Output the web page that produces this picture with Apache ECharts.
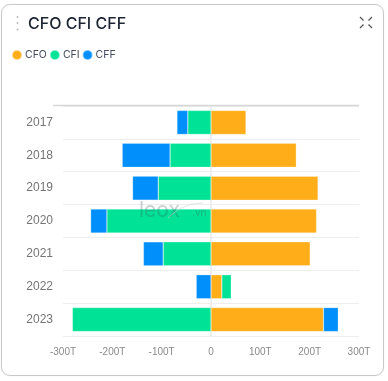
<!DOCTYPE html>
<html>
<head>
<meta charset="utf-8">
<script src="https://cdn.jsdelivr.net/npm/echarts@6/dist/echarts.min.js"></script>
<style>
html, body { margin: 0; padding: 0; background: #fff; }
#card { position: absolute; left: 1px; top: 4px; width: 381px; height: 370px; border: 1px solid #c9c9c9; border-radius: 9px; box-shadow: 0 0 1px #ddd; }
#chart { position: absolute; left: 0; top: 0; width: 388px; height: 381px; }
</style>
</head>
<body>
<div id="card"></div>
<div id="chart"></div>
<script>
var years = ['2017', '2018', '2019', '2020', '2021', '2022', '2023'];
var cfo = [71, 173, 217, 214, 201, 22, 228];
var cfi = [-47, -83, -107, -211, -97, 19, -281];
var cff = [-22, -97, -52, -33, -40, -30, 30];
var xTicks = [-300, -200, -100, 0, 100, 200, 300];

var chart = echarts.init(document.getElementById('chart'));

function makeSeries(name, color, data) {
    return {
        name: name,
        type: 'bar',
        stack: 'total',
        barWidth: 24,
        itemStyle: {color: color, borderColor: 'rgba(255,255,255,0.5)', borderWidth: 0.5},
        data: data
    };
}

var option = {
    animation: false,
    title: {
        text: 'CFO CFI CFF',
        left: 23,
        top: 11,
        textStyle: {fontFamily: 'Inter', fontSize: 16, fontWeight: 500, color: '#1d2433'}
    },
    legend: {
        left: 6,
        top: 44,
        icon: 'circle',
        itemWidth: 10,
        itemHeight: 10,
        itemGap: 2,
        textStyle: {fontFamily: 'Inter', fontSize: 10.5, color: '#444c5c', padding: [0, 0, 0, -2]},
        data: ['CFO', 'CFI', 'CFF']
    },
    grid: {left: 63, right: 29, top: 106, bottom: 45},
    xAxis: {
        type: 'value',
        min: -300,
        max: 300,
        interval: 100,
        axisLine: {show: false},
        axisTick: {show: false},
        splitLine: {show: false},
        axisLabel: {
            fontFamily: 'Helvetica, Liberation Sans',
            fontSize: 10,
            color: '#8a8a8a',
            margin: 11,
            customValues: xTicks,
            formatter: function (v) { return v === 0 ? '0' : v + 'T'; }
        }
    },
    yAxis: {
        type: 'category',
        inverse: true,
        data: years,
        axisLine: {show: true, lineStyle: {color: '#eeeeee', width: 2}},
        axisTick: {show: true, length: 10, lineStyle: {color: '#eeeeee'}},
        splitLine: {show: true, lineStyle: {color: '#eeeeee'}},
        axisLabel: {fontFamily: 'Helvetica, Liberation Sans', fontSize: 12, color: '#757575', margin: 10, padding: [2, 0, 0, 0]}
    },
    series: [
        makeSeries('CFO', '#ffae19', cfo),
        makeSeries('CFI', '#00e396', cfi),
        makeSeries('CFF', '#008ffb', cff)
    ],
    graphic: [
        // top rule of the plot
        {type: 'line', z: 5, shape: {x1: 53, y1: 105.5, x2: 359, y2: 105.5}, style: {stroke: '#d6d6d6', lineWidth: 1.5}},
        // drag handle
        {type: 'circle', shape: {cx: 17.5, cy: 17, r: 1}, style: {fill: '#bbbbbb'}},
        {type: 'circle', shape: {cx: 17.5, cy: 23, r: 1}, style: {fill: '#bbbbbb'}},
        {type: 'circle', shape: {cx: 17.5, cy: 29.5, r: 1}, style: {fill: '#bbbbbb'}},
        // expand icon
        {type: 'line', shape: {x1: 360, y1: 17, x2: 363.5, y2: 20.5}, style: {stroke: '#555', lineWidth: 1.3}},
        {type: 'line', shape: {x1: 372, y1: 17, x2: 368.5, y2: 20.5}, style: {stroke: '#555', lineWidth: 1.3}},
        {type: 'line', shape: {x1: 360, y1: 28, x2: 363.5, y2: 24.5}, style: {stroke: '#555', lineWidth: 1.3}},
        {type: 'line', shape: {x1: 372, y1: 28, x2: 368.5, y2: 24.5}, style: {stroke: '#555', lineWidth: 1.3}},
        // watermark
        {type: 'text', z: 10, left: 139, top: 200, style: {text: 'leox', fontFamily: 'Inter', fontSize: 21, fill: 'rgba(60,90,90,0.28)'}},
        {type: 'text', z: 10, left: 192, top: 208, style: {text: '.vn', fontFamily: 'Inter', fontSize: 10, fill: 'rgba(60,90,90,0.32)'}},
        {type: 'bezierCurve', z: 10, shape: {x1: 168, y1: 218, cpx1: 178, cpy1: 208, cpx2: 190, cpy2: 203, x2: 203, y2: 203}, style: {fill: 'none', stroke: 'rgba(200,215,215,0.6)', lineWidth: 1}}
    ]
};
chart.setOption(option);
</script>
</body>
</html>
